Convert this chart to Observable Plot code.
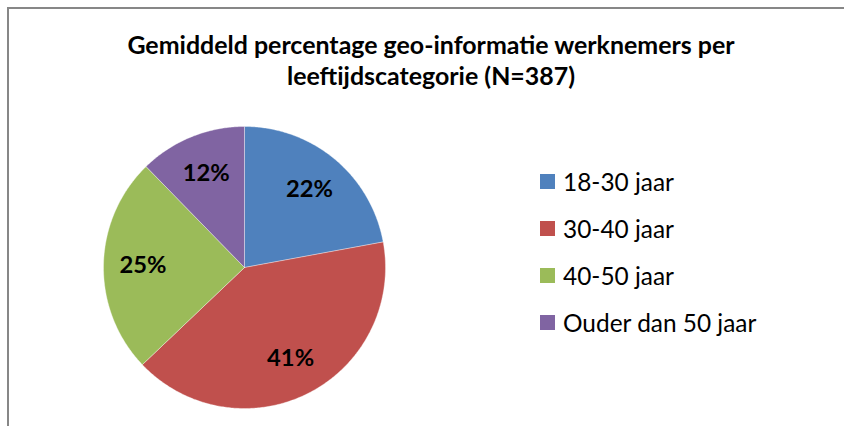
<!DOCTYPE html>
<html>
<head>
<meta charset="utf-8">
<script src="https://cdn.jsdelivr.net/npm/d3@7"></script>
<script src="https://cdn.jsdelivr.net/npm/@observablehq/plot@0.6"></script>
<style>
  html, body { margin: 0; padding: 0; background: #fff; }
  #wrap { position: relative; width: 844px; height: 426px; overflow: hidden; background: #fff; }
  #frame { position: absolute; left: 7px; top: 7px; width: 844px; height: 426px; border-left: 2px solid #878787; border-top: 2px solid #878787; box-sizing: border-box; }
  #title { position: absolute; left: 0; width: 862px; top: 29px; text-align: center; font-family: Lato, sans-serif; font-weight: bold; color: #000; line-height: 31px; }
  #legend { position: absolute; left: 540px; top: 0; font-family: Lato, sans-serif; color: #000; }
  .item { position: absolute; left: 0; white-space: nowrap; display: flex; align-items: center; }
  .sw { width: 15px; height: 15px; margin-right: 8px; flex: none; }
  #chart { position: absolute; left: 0; top: 0; }
</style>
</head>
<body>
<div id="wrap">
  <div id="chart"></div>
  <div id="frame"></div>
  <div id="title"></div>
  <div id="legend"></div>
</div>
<script>
const titleLines = ["Gemiddeld percentage geo-informatie werknemers per", "leeftijdscategorie (N=387)"];
const categories = ["18-30 jaar", "30-40 jaar", "40-50 jaar", "Ouder dan 50 jaar"];
const values = [22.1, 40.8, 24.8, 12.3];
const labels = ["22%", "41%", "25%", "12%"];
const colors = ["#4F81BD", "#C0504D", "#9BBB59", "#8064A2"];

function fitSize(text, font, target, base) {
  const c = document.createElement("canvas").getContext("2d");
  c.font = `${font.replace("SIZE", base + "px")}`;
  const w = c.measureText(text).width;
  return base * target / w;
}

const titleSize = fitSize(titleLines[0], "bold SIZE Lato", 608, 24);
const legendSize = fitSize(categories[3], "SIZE Lato", 194, 22);
const labelSize = fitSize(labels[0], "bold SIZE Lato", 47, 24);

// pie geometry from data
const arcs = d3.pie().sort(null)(values);
const pts = [];
arcs.forEach((a, i) => {
  const n = Math.max(2, Math.ceil((a.endAngle - a.startAngle) / 0.01));
  pts.push({cat: categories[i], x: 0, y: 0});
  for (let k = 0; k <= n; k++) {
    const t = a.startAngle + (a.endAngle - a.startAngle) * k / n;
    pts.push({cat: categories[i], x: Math.sin(t), y: Math.cos(t)});
  }
  pts.push({cat: categories[i], x: 0, y: 0});
});
const labelR = 0.72;
const labelData = arcs.map((a, i) => {
  const m = (a.startAngle + a.endAngle) / 2;
  return {label: labels[i], x: labelR * Math.sin(m), y: labelR * Math.cos(m)};
});

const cx = 244, cy = 267, R = 141;
const chart = Plot.plot({
  width: 844,
  height: 426,
  margin: 0,
  style: {background: "transparent", fontFamily: "Lato, sans-serif"},
  x: {domain: [-1, 1], range: [cx - R, cx + R], axis: null},
  y: {domain: [-1, 1], range: [cy + R, cy - R], axis: null},
  color: {domain: categories, range: colors},
  marks: [
    Plot.line(pts, {x: "x", y: "y", z: "cat", fill: "cat", stroke: "#fff", strokeWidth: 0.6, strokeOpacity: 0.6, curve: "linear"}),
    Plot.text(labelData, {x: "x", y: "y", text: "label", fontSize: labelSize, fontWeight: "bold", fill: "#000"})
  ]
});
document.getElementById("chart").appendChild(chart);

const title = document.getElementById("title");
title.style.fontSize = titleSize + "px";
title.innerHTML = titleLines.map(t => `<div>${t}</div>`).join("");

const legend = document.getElementById("legend");
const rowCenters = [181, 228, 275, 322];
categories.forEach((c, i) => {
  const it = document.createElement("div");
  it.className = "item";
  it.style.top = (rowCenters[i] - 15) + "px";
  it.style.height = "30px";
  it.style.fontSize = legendSize + "px";
  it.innerHTML = `<span class="sw" style="background:${colors[i]}"></span><span>${c}</span>`;
  legend.appendChild(it);
});
</script>
</body>
</html>
